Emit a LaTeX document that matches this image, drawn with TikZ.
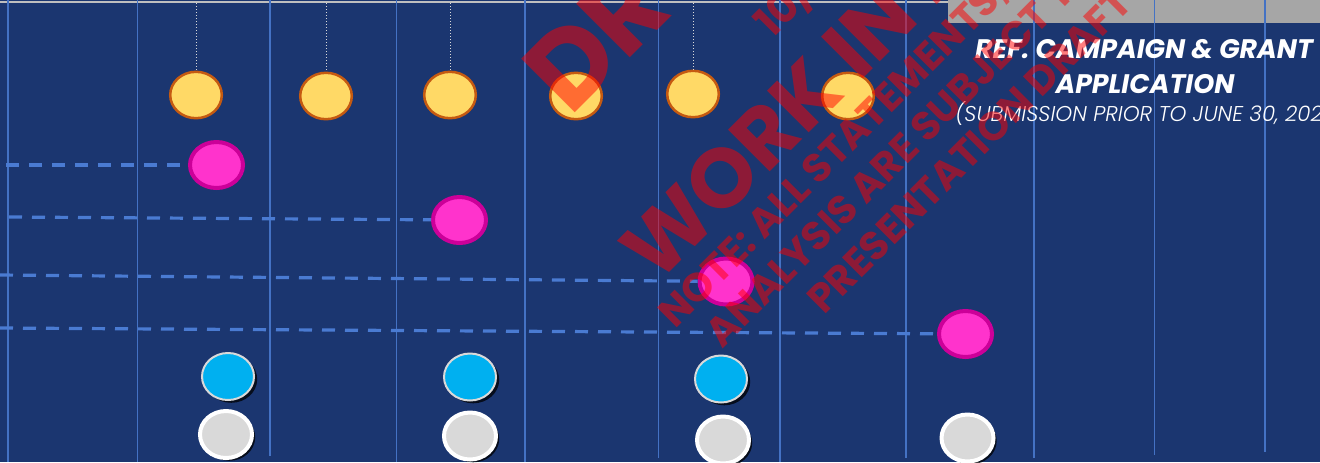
\documentclass[tikz,border=0pt]{standalone}
\usepackage{fontspec}
\setmainfont{Poppins}
\newfontfamily\lightfont{Poppins Light}[ItalicFont={Poppins Light Italic}]
\usetikzlibrary{shapes.geometric,shadows}
\definecolor{bg}{HTML}{1B3670}
\definecolor{gridblue}{HTML}{4472C4}
\definecolor{dashblue}{HTML}{4A7BD2}
\definecolor{ylfill}{HTML}{FFD966}
\definecolor{ylline}{HTML}{C55A11}
\definecolor{pkfill}{HTML}{FF33CC}
\definecolor{pkline}{HTML}{CC0099}
\definecolor{blfill}{HTML}{00B0F0}
\definecolor{lgray}{HTML}{D9D9D9}
\definecolor{boxgray}{HTML}{A6A6A6}
\definecolor{topgray}{HTML}{BFBFBF}
\begin{document}
\begin{tikzpicture}[x=0.5pt,y=-0.5pt,
  gridline/.style={draw=gridblue,line width=0.75pt},
  yellowdot/.style={ellipse,draw=ylline,fill=ylfill,line width=1.25pt,inner sep=0,minimum width=25.8pt,minimum height=23.2pt},
  pinkdot/.style={ellipse,draw=pkline,fill=pkfill,line width=2pt,inner sep=0,minimum width=26.5pt,minimum height=23pt},
  bluedot/.style={ellipse,draw=lgray,fill=blfill,line width=1pt,inner sep=0,minimum width=26pt,minimum height=23.5pt,
    drop shadow={shadow xshift=1.6pt,shadow yshift=-1.4pt,fill=black,opacity=0.75}},
  graydot/.style={ellipse,draw=white,fill=lgray,line width=2pt,inner sep=0,minimum width=26pt,minimum height=23.5pt,
    drop shadow={shadow xshift=1.6pt,shadow yshift=-1.4pt,fill=black,opacity=0.75}},
  hanger/.style={draw=lgray,line width=0.5pt,densely dotted},
  guide/.style={draw=dashblue,line width=1.6pt,dash pattern=on 6.5pt off 5pt},
  titletext/.style={text=white,font=\bfseries\itshape\fontsize{13.4}{15}\selectfont,inner sep=0,anchor=base},
  subtext/.style={text=white,font=\lightfont\itshape\fontsize{10.7}{12}\selectfont,inner sep=0,anchor=base west},
  wm/.style={text=red,text opacity=0.5,inner sep=0,rotate=45,anchor=base west,font=\bfseries}
]
\useasboundingbox (0,0) rectangle (1320,462);
\clip (0,0) rectangle (1320,462);
\fill[bg] (0,0) rectangle (1320,462);
\fill[boxgray] (948,0) rectangle (1320,22.7);
\draw[topgray,line width=1pt] (0,2) -- (948,2);
% vertical grid lines
\foreach \x/\e in {8/462,137.6/462,270/456,396.5/462,525/462,658.7/458,780/462,906/458,1034/458,1154.5/455,1265/452}
  \draw[gridline] (\x,0) -- (\x,\e);
% yellow milestones
\node[yellowdot] (y1) at (196,95) {};
\node[yellowdot] (y2) at (326,96) {};
\node[yellowdot] (y3) at (450,95) {};
\node[yellowdot] (y4) at (576,96) {};
\node[yellowdot] (y5) at (693,94) {};
\node[yellowdot] (y6) at (848,96) {};
\coordinate (h1) at (196,3);
\coordinate (h2) at (326,3);
\coordinate (h3) at (450,3);
\coordinate (h5) at (693,3);
\draw[hanger] (h1) -- (y1.north);
\draw[hanger] (h2) -- (y2.north);
\draw[hanger] (h3) -- (y3.north);
\draw[hanger] (h5) -- (y5.north);
% pink dots with guides
\node[pinkdot] (p1) at (216.5,165) {};
\node[pinkdot] (p2) at (459.5,220) {};
\node[pinkdot] (p3) at (726,281.5) {};
\node[pinkdot] (p4) at (965.5,334) {};
\coordinate (g1) at (6,165);
\coordinate (g2) at (9,217);
\coordinate (g3) at (0,275);
\coordinate (g4) at (0,328);
\draw[guide] (g1) -- (p1);
\draw[guide] (g2) -- (p2);
\draw[guide] (g3) -- (p3);
\draw[guide] (g4) -- (p4);
% blue and gray dots
\node[bluedot] (b1) at (228,376.5) {};
\node[bluedot] (b2) at (470,377) {};
\node[bluedot] (b3) at (721,379) {};
\node[graydot] (c1) at (226,434.5) {};
\node[graydot] (c2) at (470,436) {};
\node[graydot] (c3) at (723,440) {};
\node[graydot] (c4) at (967.5,438) {};
% title
\node[titletext] (ta) at (1144,58) {REF. CAMPAIGN \& GRANT};
\node[titletext] (tb) at (1145,93) {APPLICATION};
\node[subtext] (tc) at (955,121) {(SUBMISSION PRIOR TO JUNE 30, 2022)};
% watermark
\node[wm,font=\bfseries\fontsize{54}{54}\selectfont] (w1) at (570,118) {DR};
\node[wm,font=\bfseries\fontsize{21}{21}\selectfont] (w2) at (772,40) {10/};
\node[wm,font=\bfseries\fontsize{42}{42}\selectfont] (w3) at (657,285) {WORK IN P};
\node[wm,font=\bfseries\fontsize{20}{20}\selectfont] (w4) at (675,330) {NOTE: ALL STATEMENTS,};
\node[wm,font=\bfseries\fontsize{20}{20}\selectfont] (w5) at (722,350) {ANALYSIS ARE SUBJECT T};
\node[wm,font=\bfseries\fontsize{20}{20}\selectfont] (w6) at (824,316) {PRESENTATION DRAFT O};
\end{tikzpicture}
\end{document}
